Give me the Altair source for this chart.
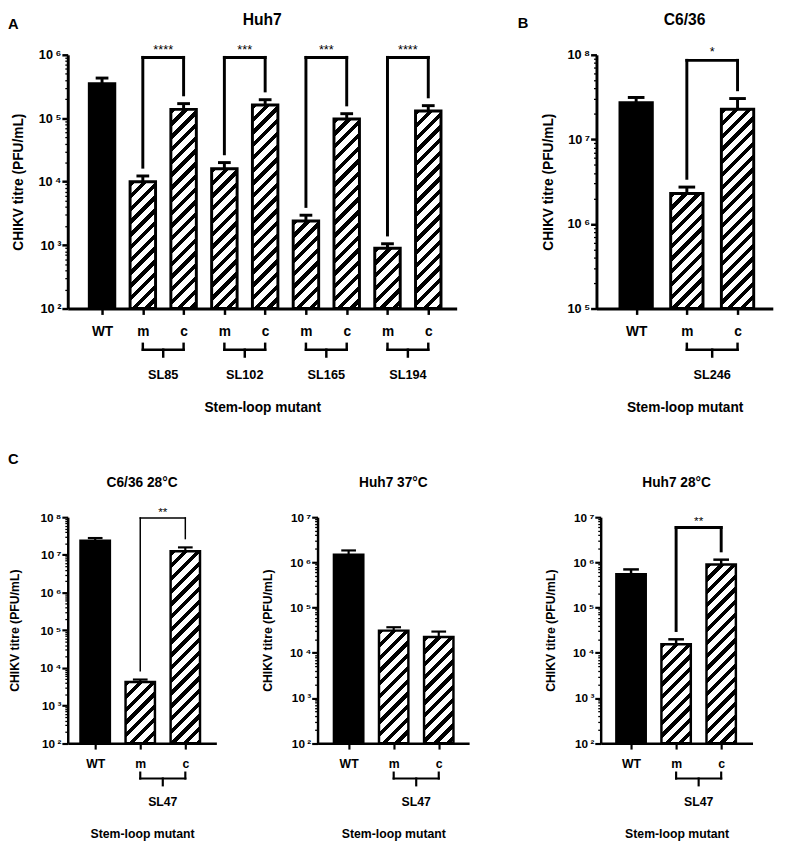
import json
import math
import altair as alt
import pandas as pd

FONT = "Liberation Sans"

# ---------------- data ----------------
Y_TITLE = "CHIKV titre (PFU/mL)"
X_TITLE = "Stem-loop mutant"

A_title = "Huh7"
A_labels = ["WT", "m", "c", "m", "c", "m", "c", "m", "c"]
A_groups = ["SL85", "SL102", "SL165", "SL194"]
A_means = [3.5e5, 1.0e4, 1.38e5, 1.6e4, 1.62e5, 2.4e3, 9.7e4, 8.9e2, 1.3e5]
A_errs = [4.3e5, 1.23e4, 1.7e5, 2.0e4, 1.96e5, 2.96e3, 1.18e5, 1.05e3, 1.58e5]
A_stars = ["****", "***", "***", "****"]
A_levels = [9.1e5, 9.1e5, 9.1e5, 9.1e5]
A_ydomain = [1e2, 1e6]

B_title = "C6/36"
B_labels = ["WT", "m", "c"]
B_groups = ["SL246"]
B_means = [2.71e7, 2.29e6, 2.27e7]
B_errs = [3.13e7, 2.73e6, 3.04e7]
B_stars = ["*"]
B_levels = [8.6e7]
B_ydomain = [1e5, 1e8]

C1_title = "C6/36 28°C"
C1_labels = ["WT", "m", "c"]
C1_groups = ["SL47"]
C1_means = [2.38e7, 4.2e3, 1.25e7]
C1_errs = [2.8e7, 4.9e3, 1.58e7]
C1_stars = ["**"]
C1_levels = [9.5e7]
C1_ydomain = [1e2, 1e8]

C2_title = "Huh7 37°C"
C2_labels = ["WT", "m", "c"]
C2_groups = ["SL47"]
C2_means = [1.48e6, 3.1e4, 2.24e4]
C2_errs = [1.84e6, 3.68e4, 2.95e4]
C2_stars = []
C2_levels = []
C2_ydomain = [1e2, 1e7]

C3_title = "Huh7 28°C"
C3_labels = ["WT", "m", "c"]
C3_groups = ["SL47"]
C3_means = [5.5e5, 1.55e4, 9.0e5]
C3_errs = [7.0e5, 1.99e4, 1.15e6]
C3_stars = ["**"]
C3_levels = [5.9e6]
C3_ydomain = [1e2, 1e7]

# ---------------- styles ----------------
BIG = dict(tick_font=13, ytitle_font=14, xlabel_font=14, sl_font=13, xtitle_font=14,
           title_font=16, title_y=-30, star_font=13, letter_font=15,
           label_pad=11, xtitle_pad=74, gbr_y=42, sl_y=68, axis_w=3, tick_w=2.5, gb_w=2.5)
SMALL = dict(tick_font=12, ytitle_font=12.5, xlabel_font=12.5, sl_font=12.5, xtitle_font=12.5,
             title_font=14, title_y=-31, star_font=12, letter_font=15,
             label_pad=9, xtitle_pad=66, gbr_y=36, sl_y=60, axis_w=2.5, tick_w=2.2, gb_w=2.2)

PA = dict(width=397, height=259, step=41.625, offset=35, bar_w=26, outline=3, err_w=3,
          cap_w=13, br_w=3, star_dy=-7, ytp=9, letter=("A", -61, -31.5), S=BIG)
PB = dict(width=180, height=259, step=51.75, offset=40.5, bar_w=33, outline=3, err_w=3,
          cap_w=17, br_w=3, star_dy=-8, ytp=8.3, letter=("B", -80.3, -32.3), S=BIG)
PC1 = dict(width=151.7, height=230.7, step=46, offset=28, bar_w=30, outline=2.5, err_w=2.2,
           cap_w=15, br_w=1.5, star_dy=-6, ytp=12.9, letter=("C", -61, -59.3), S=SMALL)
PC2 = dict(width=154.7, height=230.7, step=46, offset=31.7, bar_w=30, outline=2.5, err_w=2.2,
           cap_w=15, br_w=2.5, star_dy=-6, ytp=10.2, letter=None, S=SMALL)
PC3 = dict(width=155, height=230.7, step=46, offset=31, bar_w=30, outline=2.5, err_w=2.5,
           cap_w=16, br_w=3, star_dy=-6.5, ytp=10.6, letter=None, S=SMALL)

SUP = "['⁰','¹','²','³','⁴','⁵','⁶','⁷','⁸','⁹']"
IS_MAJOR = "abs(log(datum.value)/LN10 - round(log(datum.value)/LN10)) < 0.001"


def hatch_fill(w, h, period=13.0, frac=0.42):
    L = w + h
    k = L / (w * w + h * h)
    stops = []
    i = 0
    while i * period < L:
        a = i * period / L
        b = min((i + frac) * period / L, 1.0)
        c = min((i + 1) * period / L, 1.0)
        stops += [{"offset": a, "color": "black"}, {"offset": b, "color": "black"},
                  {"offset": b, "color": "white"}, {"offset": c, "color": "white"}]
        i += 1
    return {"gradient": "linear", "x1": 0, "y1": 0, "x2": k * w, "y2": k * h, "stops": stops}


def panel(title, labels, groups, means, errs, stars, levels, ydomain, P):
    S = P["S"]
    n = len(labels)
    W, H = P["width"], P["height"]
    lo, hi = ydomain
    llo, lhi = math.log10(lo), math.log10(hi)
    d0 = -P["offset"] / P["step"]
    d1 = d0 + W / P["step"]
    xs = alt.Scale(domain=[d0, d1], nice=False, zero=False, padding=0)
    ys = alt.Scale(type="log", domain=[lo, hi], nice=False, padding=0)

    yvals = []
    for d in range(round(llo), round(lhi) + 1):
        for m in range(1, 10):
            v = m * 10 ** d
            if v <= hi * 1.0001:
                yvals.append(v)

    yaxis = alt.Axis(
        values=yvals,
        labelExpr=f"{IS_MAJOR} ? '10\u2009' + {SUP}[round(log(datum.value)/LN10)] : ''",
        labelOverlap=False, labelFontSize=S["tick_font"], labelFont=FONT, labelFontWeight="bold",
        labelColor="black", labelPadding=1,
        tickSize={"condition": {"test": IS_MAJOR, "value": 6}, "value": 3},
        tickWidth={"condition": {"test": IS_MAJOR, "value": S["tick_w"]}, "value": 1.3},
        tickColor="black", domainColor="black", domainWidth=S["axis_w"], grid=False,
        title=Y_TITLE, titleFont=FONT, titleFontWeight="bold", titleFontSize=S["ytitle_font"],
        titleColor="black", titlePadding=P["ytp"], minExtent=34, maxExtent=34,
    )
    xaxis = alt.Axis(
        values=list(range(n)), labelExpr=f"{json.dumps(labels)}[round(datum.value)]",
        labelOverlap=False, labelFlush=False, labelFontSize=S["xlabel_font"], labelFont=FONT,
        labelFontWeight="bold", labelColor="black", labelPadding=S["label_pad"],
        tickSize=6, tickWidth=S["tick_w"], tickColor="black", domainColor="black",
        domainWidth=S["axis_w"], grid=False,
        title=X_TITLE, titleFont=FONT, titleFontWeight="bold", titleFontSize=S["xtitle_font"],
        titleColor="black", titlePadding=S["xtitle_pad"], minExtent=20, maxExtent=20,
    )

    def X(f="pos", ax=alt.Undefined):
        return alt.X(f"{f}:Q", scale=xs, axis=ax)

    def Y(f, ax=alt.Undefined):
        return alt.Y(f"{f}:Q", scale=ys, axis=ax)

    bars = pd.DataFrame({"pos": list(range(n)), "label": labels, "mean": means,
                         "err": errs, "base": [lo] * n})
    layers = []
    layers.append(
        alt.Chart(bars[bars.label == "WT"]).mark_bar(
            width=P["bar_w"], orient="vertical", fill="black", stroke="black",
            strokeWidth=P["outline"]
        ).encode(x=X("pos", xaxis), y=Y("mean", yaxis), y2="base")
    )
    for _, r in bars[bars.label != "WT"].iterrows():
        h = H * (math.log10(r["mean"]) - llo) / (lhi - llo)
        layers.append(
            alt.Chart(bars[bars.pos == r["pos"]]).mark_bar(
                width=P["bar_w"], orient="vertical", fill=hatch_fill(P["bar_w"], h),
                stroke="black", strokeWidth=P["outline"]
            ).encode(x=X(), y=Y("mean"), y2="base")
        )
    layers.append(alt.Chart(bars).mark_rule(color="black", strokeWidth=P["err_w"]).encode(
        x=X(), y=Y("mean"), y2="err"))
    layers.append(alt.Chart(bars).mark_tick(
        orient="horizontal", color="black", opacity=1, size=P["cap_w"], thickness=P["err_w"]
    ).encode(x=X(), y=Y("err")))

    im = [i for i, l in enumerate(labels) if l == "m"]
    ic = [i for i, l in enumerate(labels) if l == "c"]
    gdf = pd.DataFrame({"im": im, "ic": ic, "mid": [(a + b) / 2 for a, b in zip(im, ic)],
                        "name": groups})

    if stars:
        gapf = 10 ** (9 * (lhi - llo) / H)
        sdf = pd.DataFrame({
            "im": im, "ic": ic, "mid": [(a + b) / 2 for a, b in zip(im, ic)],
            "level": levels, "stars": stars,
            "legm": [errs[a] * gapf for a in im], "legc": [errs[b] * gapf for b in ic],
        })
        rule = dict(color="black", strokeWidth=P["br_w"], strokeCap="square")
        layers.append(alt.Chart(sdf).mark_rule(**rule).encode(x=X("im"), x2="ic", y=Y("level")))
        layers.append(alt.Chart(sdf).mark_rule(**rule).encode(x=X("im"), y=Y("level"), y2="legm"))
        layers.append(alt.Chart(sdf).mark_rule(**rule).encode(x=X("ic"), y=Y("level"), y2="legc"))
        layers.append(alt.Chart(sdf).mark_text(
            font=FONT, fontSize=S["star_font"], color="black", baseline="middle", dy=P["star_dy"]
        ).encode(x=X("mid"), y=Y("level"), text="stars:N"))

    gy = H + S["gbr_y"]
    grule = dict(color="black", strokeWidth=S["gb_w"], strokeCap="square")
    layers.append(alt.Chart(gdf).mark_rule(**grule).encode(x=X("im"), x2="ic", y=alt.value(gy)))
    layers.append(alt.Chart(gdf).mark_rule(**grule).encode(x=X("im"), y=alt.value(gy), y2=alt.value(gy - 6)))
    layers.append(alt.Chart(gdf).mark_rule(**grule).encode(x=X("ic"), y=alt.value(gy), y2=alt.value(gy - 6)))
    layers.append(alt.Chart(gdf).mark_rule(**grule).encode(x=X("mid"), y=alt.value(gy), y2=alt.value(gy + 7)))
    layers.append(alt.Chart(gdf).mark_text(
        font=FONT, fontSize=S["sl_font"], fontWeight="bold", color="black", baseline="middle"
    ).encode(x=X("mid"), y=alt.value(H + S["sl_y"]), text="name:N"))

    # panel title
    layers.append(alt.Chart(pd.DataFrame({"t": [title]})).mark_text(
        font=FONT, fontSize=S["title_font"], fontWeight="bold", color="black",
        align="center", baseline="alphabetic"
    ).encode(x=alt.value(W / 2), y=alt.value(S["title_y"]), text="t:N"))

    if P["letter"]:
        t, lx, ly = P["letter"]
        layers.append(alt.Chart(pd.DataFrame({"t": [t]})).mark_text(
            font=FONT, fontSize=S["letter_font"], fontWeight="bold", color="black",
            align="left", baseline="middle"
        ).encode(x=alt.value(lx), y=alt.value(ly), text="t:N"))

    return alt.layer(*layers).properties(width=W, height=H)


pA = panel(A_title, A_labels, A_groups, A_means, A_errs, A_stars, A_levels, A_ydomain, PA)
pB = panel(B_title, B_labels, B_groups, B_means, B_errs, B_stars, B_levels, B_ydomain, PB)
pC1 = panel(C1_title, C1_labels, C1_groups, C1_means, C1_errs, C1_stars, C1_levels, C1_ydomain, PC1)
pC2 = panel(C2_title, C2_labels, C2_groups, C2_means, C2_errs, C2_stars, C2_levels, C2_ydomain, PC2)
pC3 = panel(C3_title, C3_labels, C3_groups, C3_means, C3_errs, C3_stars, C3_levels, C3_ydomain, PC3)

chart = alt.vconcat(
    alt.hconcat(pA, pB, spacing=61.7),
    alt.hconcat(alt.hconcat(pC1, pC2, spacing=45), pC3, spacing=76),
    spacing=38,
).properties(
    padding={"left": 0, "top": -4, "right": 5, "bottom": 5},
).configure_view(stroke=None)

chart.save("out.html", embed_options={"renderer": "svg", "actions": False})
